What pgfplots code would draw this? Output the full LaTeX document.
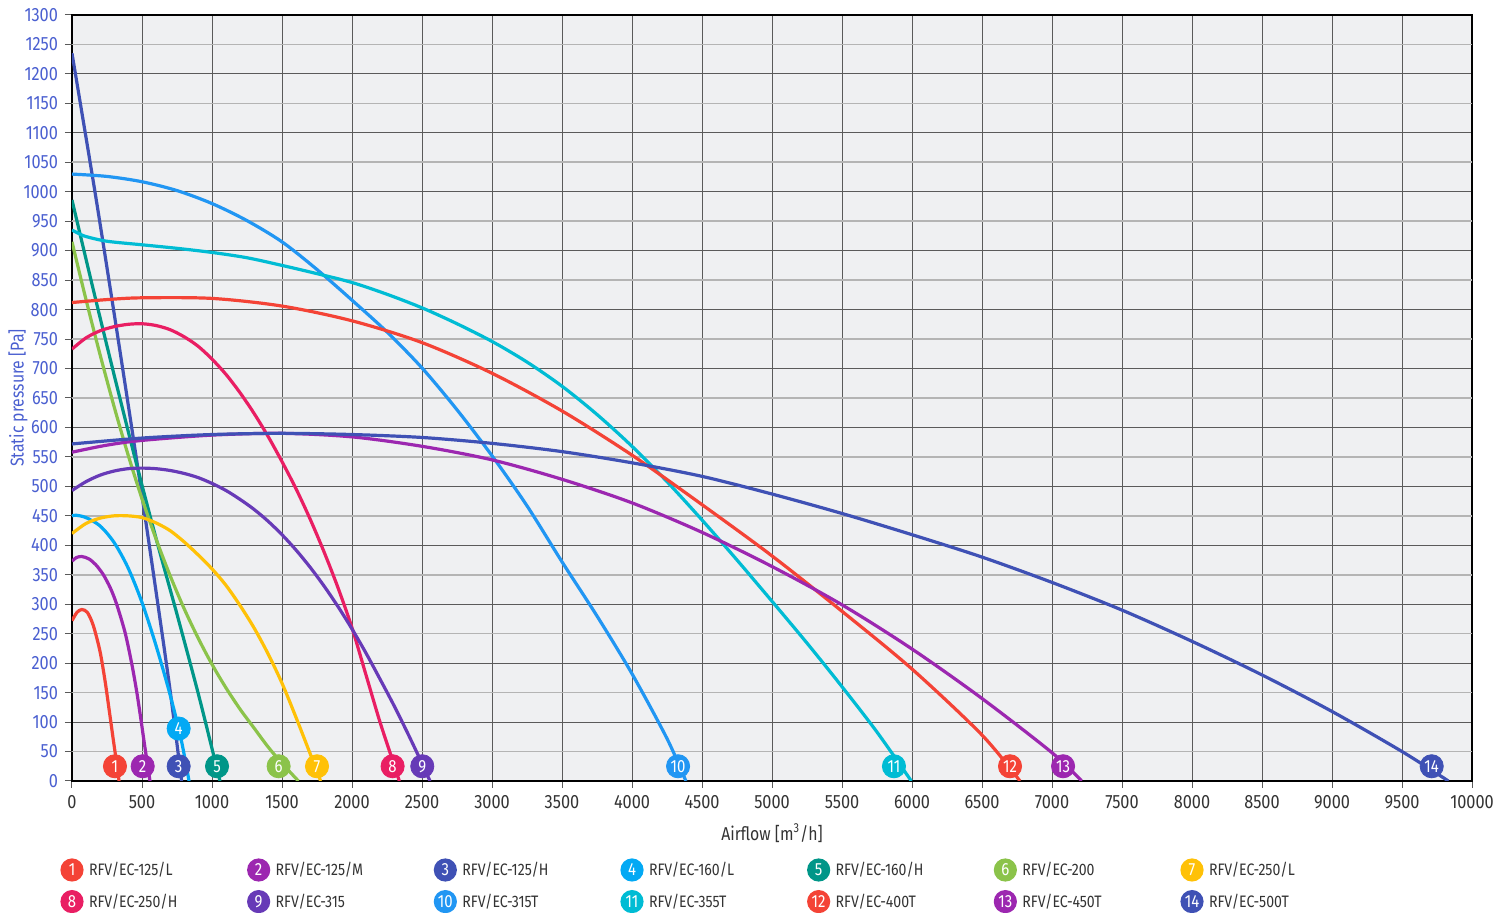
\documentclass[border=0pt]{standalone}
\usepackage{fontspec}
\setmainfont{Fira Sans}[FakeStretch=0.85]
\usepackage{pgfplots}
\pgfplotsset{compat=1.18}
\definecolor{c1}{HTML}{F44336}
\definecolor{c2}{HTML}{9C27B0}
\definecolor{c3}{HTML}{3F51B5}
\definecolor{c4}{HTML}{03A9F4}
\definecolor{c5}{HTML}{009688}
\definecolor{c6}{HTML}{8BC34A}
\definecolor{c7}{HTML}{FFC107}
\definecolor{c8}{HTML}{E91E63}
\definecolor{c9}{HTML}{673AB7}
\definecolor{c10}{HTML}{2196F3}
\definecolor{c11}{HTML}{00BCD4}
\definecolor{c12}{HTML}{F44336}
\definecolor{c13}{HTML}{9C27B0}
\definecolor{c14}{HTML}{3F51B5}
\definecolor{bgc}{HTML}{EFF0F2}
\definecolor{gridd}{HTML}{5A5A5A}
\definecolor{gridl}{HTML}{B4B4B4}
\definecolor{ylab}{HTML}{4A5FD0}
\definecolor{xlab}{HTML}{333333}
\newcommand{\tickfont}{\fontsize{9.6}{10}\selectfont}
\newcommand{\labfont}{\fontsize{9.3}{11}\selectfont}
\newcommand{\legfont}{\fontsize{8.3}{9}\selectfont}
\newcommand{\mkfont}{\fontsize{8.8}{8.8}\selectfont}
\newcommand{\mk}[4]{\addplot[only marks, mark=*, mark size=5.8pt, color=#1, mark options={draw=none, fill=#1}, nodes near coords={#2}, every node near coord/.append style={anchor=center, text=white, font=\mkfont, inner sep=0pt}] coordinates {(#3,#4)};}
\newcommand{\legitem}[5]{%
  \node[circle, fill=#3, inner sep=0pt, minimum size=11.6pt, text=white, font=\mkfont] at (#1pt,#2pt) {#4};
  \node[anchor=west, inner sep=0pt, text=xlab, font=\legfont] at (#1pt+8.3pt,#2pt) {#5};}
\begin{document}
\begin{tikzpicture}
\begin{axis}[
  name=ax, at={(0,0)}, anchor=south west,
  scale only axis, width=700pt, height=383pt,
  xmin=0, xmax=10000, ymin=0, ymax=1300,
  xtick={0,500,...,10000}, ytick={0,100,...,1300},
  extra y ticks={50,150,...,1250},
  extra y tick style={major grid style={gridl, line width=0.8pt}},
  grid=major, major grid style={gridd, line width=0.5pt},
  axis background/.style={fill=bgc},
  axis line style={black, line width=0.7pt},
  tick align=outside, major tick length=3.5pt, tick style={gridd, line width=0.5pt},
  xtick pos=bottom, ytick pos=left,
  scaled ticks=false,
  /pgf/number format/.cd, set thousands separator={}, assume math mode=true, /pgfplots/.cd,
  yticklabel style={text=ylab, font=\tickfont},
  xticklabel style={text=xlab, font=\tickfont},
  xlabel={Airflow [m\textsuperscript{3}/h]},
  ylabel={Static pressure [Pa]},
  xlabel style={at={(axis description cs:0.5,-0.068)}, anchor=center, text=xlab, font=\labfont},
  ylabel style={at={(axis description cs:-0.0386,0.5)}, anchor=center, text=ylab, font=\labfont},
  curve/.style={line width=1.6pt, smooth, tension=0.5, no markers, color=#1},
]
\addplot[curve=c1] coordinates {(0,272) (35,286) (70,291) (110,286) (152,264) (200,220) (236,170) (267,118) (295,70) (316,35) (336,0)};
\addplot[curve=c2] coordinates {(0,373) (30,379) (69,381) (120,377) (170,367) (224,350) (275,327) (319,300) (379,252) (426,200) (462,152) (492,105) (516,65) (537,32) (557,0)};
\addplot[curve=c3] coordinates {(0,1235) (164,1000) (300,795) (400,641) (500,484) (600,322) (700,155) (783,0)};
\addplot[curve=c4] coordinates {(0,450) (30,451) (100,447) (200,433) (300,405) (400,362) (500,303) (600,230) (700,147) (780,70) (836,0)};
\addplot[curve=c5] coordinates {(0,986) (150,836) (300,690) (450,548) (600,412) (750,283) (900,150) (1000,55) (1057,0)};
\addplot[curve=c6] coordinates {(0,915) (100,817) (200,724) (300,636) (400,554) (500,479) (600,411) (700,349) (800,293) (900,243) (1000,198) (1100,158) (1200,122) (1300,90) (1400,58) (1500,30) (1617,0)};
\addplot[curve=c7] coordinates {(0,420) (100,437) (200,446) (300,450) (400,450) (500,447) (600,438) (700,425) (800,406) (900,384) (1000,360) (1100,332) (1200,298) (1300,260) (1400,216) (1500,166) (1600,108) (1700,47) (1776,0)};
\addplot[curve=c8] coordinates {(0,733) (100,752) (200,764) (300,771) (400,775) (500,776) (600,773) (700,766) (800,754) (900,738) (1000,716) (1100,690) (1200,659) (1300,624) (1400,585) (1500,542) (1600,496) (1700,445) (1800,389) (1900,328) (2000,260) (2100,180) (2200,100) (2300,28) (2338,0)};
\addplot[curve=c9] coordinates {(0,493) (100,508) (200,519) (300,526) (400,530) (500,531) (600,530) (700,527) (800,522) (900,515) (1000,505) (1100,493) (1200,478) (1300,461) (1400,441) (1500,418) (1600,392) (1700,363) (1800,331) (1900,296) (2000,258) (2100,217) (2200,173) (2300,128) (2400,80) (2500,30) (2557,0)};
\addplot[curve=c10] coordinates {(0,1030) (250,1026) (500,1017) (750,1002) (1000,980) (1250,951) (1500,915) (1750,868) (2000,816) (2250,762) (2500,701) (2750,630) (3000,552) (3250,467) (3500,372) (3750,280) (4000,182) (4250,72) (4385,0)};
\addplot[curve=c11] coordinates {(0,935) (50,929) (100,924) (250,916) (500,910) (750,904) (1000,897) (1250,888) (1500,875) (1750,861) (2000,846) (2250,826) (2500,803) (2750,776) (3000,746) (3250,711) (3500,670) (3750,622) (4000,568) (4250,508) (4500,443) (4750,375) (5000,305) (5250,234) (5500,160) (5750,83) (5995,0)};
\addplot[curve=c12] coordinates {(0,812) (250,817) (500,820) (1000,819) (1500,806) (2000,781) (2500,744) (3000,692) (3500,628) (4000,553) (4500,469) (5000,382) (5500,288) (6000,190) (6500,78) (6771,0)};
\addplot[curve=c13] coordinates {(0,558) (250,570) (500,578) (1000,587) (1500,590) (2000,584) (2500,568) (3000,545) (3500,512) (4000,472) (4500,422) (5000,364) (5500,299) (6000,224) (6500,140) (7000,48) (7212,0)};
\addplot[curve=c14] coordinates {(0,572) (500,582) (1000,588) (1500,590) (2000,588) (2500,583) (3000,573) (3500,559) (4000,540) (4500,517) (5000,487) (5500,454) (6000,418) (6500,380) (7000,337) (7500,290) (8000,237) (8500,180) (9000,118) (9500,50) (9831,0)};
\mk{c1}{1}{307}{25}
\mk{c2}{2}{505}{25}
\mk{c3}{3}{762}{25}
\mk{c4}{4}{762}{89}
\mk{c5}{5}{1036}{25}
\mk{c6}{6}{1476}{25}
\mk{c7}{7}{1750}{25}
\mk{c8}{8}{2290}{25}
\mk{c9}{9}{2502}{25}
\mk{c10}{10}{4329}{25}
\mk{c11}{11}{5871}{25}
\mk{c12}{12}{6700}{25}
\mk{c13}{13}{7079}{25}
\mk{c14}{14}{9712}{25}
\end{axis}
\legitem{0}{-44.5}{c1}{1}{RFV/EC-125/L}
\legitem{93.33}{-44.5}{c2}{2}{RFV/EC-125/M}
\legitem{186.67}{-44.5}{c3}{3}{RFV/EC-125/H}
\legitem{280}{-44.5}{c4}{4}{RFV/EC-160/L}
\legitem{373.33}{-44.5}{c5}{5}{RFV/EC-160/H}
\legitem{466.67}{-44.5}{c6}{6}{RFV/EC-200}
\legitem{560}{-44.5}{c7}{7}{RFV/EC-250/L}
\legitem{0}{-60.3}{c8}{8}{RFV/EC-250/H}
\legitem{93.33}{-60.3}{c9}{9}{RFV/EC-315}
\legitem{186.67}{-60.3}{c10}{10}{RFV/EC-315T}
\legitem{280}{-60.3}{c11}{11}{RFV/EC-355T}
\legitem{373.33}{-60.3}{c12}{12}{RFV/EC-400T}
\legitem{466.67}{-60.3}{c13}{13}{RFV/EC-450T}
\legitem{560}{-60.3}{c14}{14}{RFV/EC-500T}
\pgfresetboundingbox
\path[use as bounding box] (-36pt,-66pt) rectangle (718pt,390.5pt);
\end{tikzpicture}
\end{document}
